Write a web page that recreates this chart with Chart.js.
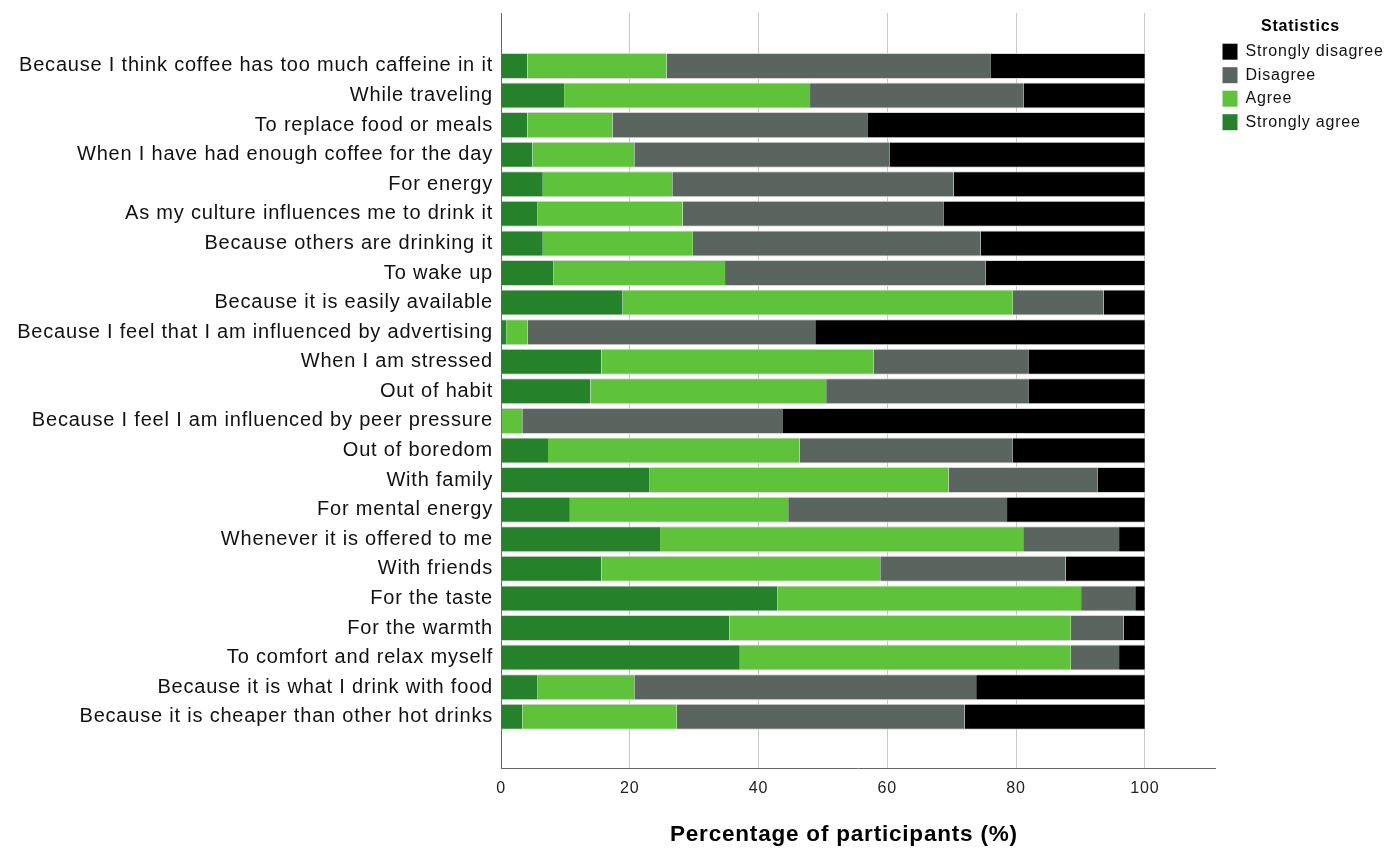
<!DOCTYPE html>
<html>
<head>
<meta charset="utf-8">
<script src="https://cdn.jsdelivr.net/npm/chart.js@4.4.1/dist/chart.umd.min.js"></script>
<style>
  html, body { margin: 0; padding: 0; background: #fff; }
  #wrap { width: 1390px; height: 853px; position: relative; }
</style>
</head>
<body>
<div id="wrap"><canvas id="likertChart"></canvas></div>
<script>
// ---------------------------------------------
// Data (percent of participants per statement)
// ---------------------------------------------
const categories = [
  'Because I think coffee has too much caffeine in it',
  'While traveling',
  'To replace food or meals',
  'When I have had enough coffee for the day',
  'For energy',
  'As my culture influences me to drink it',
  'Because others are drinking it',
  'To wake up',
  'Because it is easily available',
  'Because I feel that I am influenced by advertising',
  'When I am stressed',
  'Out of habit',
  'Because I feel I am influenced by peer pressure',
  'Out of boredom',
  'With family',
  'For mental energy',
  'Whenever it is offered to me',
  'With friends',
  'For the taste',
  'For the warmth',
  'To comfort and relax myself',
  'Because it is what I drink with food',
  'Because it is cheaper than other hot drinks'
];

const stronglyAgree = [4.1, 9.8, 4.1, 4.9, 6.5, 5.7, 6.5, 8.1, 18.9, 0.8, 15.6, 13.9, 0, 7.3, 23.1, 10.7, 24.7, 15.6, 42.9, 35.5, 37.1, 5.7, 3.3];
const agree         = [21.6, 38.2, 13.2, 15.8, 20.1, 22.5, 23.3, 26.7, 60.6, 3.3, 42.3, 36.6, 3.3, 39.1, 46.4, 33.9, 56.4, 43.3, 47.2, 53.0, 51.4, 15.0, 24.0];
const disagree      = [50.4, 33.2, 39.7, 39.7, 43.7, 40.5, 44.7, 40.5, 14.1, 44.7, 24.1, 31.5, 40.5, 33.1, 23.2, 34.0, 14.9, 28.8, 8.4, 8.2, 7.5, 53.1, 44.7];
const stronglyDis   = [23.9, 18.8, 43.0, 39.6, 29.7, 31.3, 25.5, 24.7, 6.4, 51.2, 18.0, 18.0, 56.2, 20.5, 7.3, 21.4, 4.0, 12.3, 1.5, 3.3, 4.0, 26.2, 28.0];

const seriesNames = ['Strongly agree', 'Agree', 'Disagree', 'Strongly disagree'];
const xTicks = [0, 20, 40, 60, 80, 100];

const COLORS = ['#26822a', '#5ec33a', '#5b6560', '#000000'];
const FONT = '"Liberation Sans", Arial, sans-serif';
const LETTER_SPACING = '0.8px'; // the original text is set a little loose

// build {x, y} points so the index axis can be a padded linear scale
const toPoints = arr => arr.map((v, i) => ({ x: v, y: i }));

const datasets = [stronglyAgree, agree, disagree, stronglyDis].map((arr, k) => ({
  label: seriesNames[k],
  data: toPoints(arr),
  backgroundColor: COLORS[k],
  borderColor: '#d6d6d6',
  borderWidth: { top: 1, bottom: 1, left: 0, right: 0 },
  borderSkipped: false,
  barPercentage: 0.88,
  categoryPercentage: 1
}));

// canvas letter spacing gets reset whenever the canvas is resized
const spacingPlugin = {
  id: 'spacing',
  beforeUpdate: chart => { chart.ctx.letterSpacing = LETTER_SPACING; },
  beforeDraw: chart => { chart.ctx.letterSpacing = LETTER_SPACING; }
};

new Chart(document.getElementById('likertChart'), {
  type: 'bar',
  data: { datasets },
  plugins: [spacingPlugin],
  options: {
    indexAxis: 'y',
    responsive: true,
    maintainAspectRatio: false,
    animation: false,
    layout: { padding: { top: 13, left: 0, right: 4, bottom: 0 } },
    plugins: {
      tooltip: { enabled: false },
      legend: {
        position: 'right',
        align: 'start',
        reverse: true,
        maxWidth: 171,
        title: {
          display: true,
          text: 'Statistics',
          color: '#000',
          font: { family: FONT, size: 16, weight: 'bold' },
          padding: { top: 6, bottom: -2 }
        },
        labels: {
          boxWidth: 15,
          boxHeight: 16,
          padding: 7.5,
          color: '#111',
          font: { family: FONT, size: 16 },
          generateLabels: chart => Chart.defaults.plugins.legend.labels.generateLabels(chart)
            .map(item => ({ ...item, lineWidth: 0 }))
        }
      }
    },
    scales: {
      x: {
        type: 'linear',
        stacked: true,
        min: 0,
        max: 110.9,
        afterBuildTicks: s => { s.ticks = xTicks.map(v => ({ value: v })); },
        grid: { color: '#c9c9c9', drawTicks: false, lineWidth: 1 },
        border: { display: true, color: '#666', width: 1 },
        ticks: { color: '#222', font: { family: FONT, size: 16 }, padding: 10 },
        title: {
          display: true,
          text: 'Percentage of participants (%)    ',
          color: '#000',
          font: { family: FONT, size: 22.5, weight: 'bold' },
          padding: { top: 13, bottom: 5 }
        }
      },
      y: {
        type: 'linear',
        stacked: true,
        reverse: true,
        offset: false,
        min: -1.79,
        max: 23.76,
        afterBuildTicks: s => { s.ticks = categories.map((c, i) => ({ value: i })); },
        afterFit: s => { s.width = 501; s.paddingTop = 0; },
        grid: { display: false, drawTicks: false, offset: false },
        border: { display: true, color: '#666', width: 1 },
        ticks: {
          autoSkip: false,
          color: '#111',
          font: { family: FONT, size: 20 },
          padding: 8,
          callback: v => categories[v]
        }
      }
    }
  }
});
</script>
</body>
</html>
